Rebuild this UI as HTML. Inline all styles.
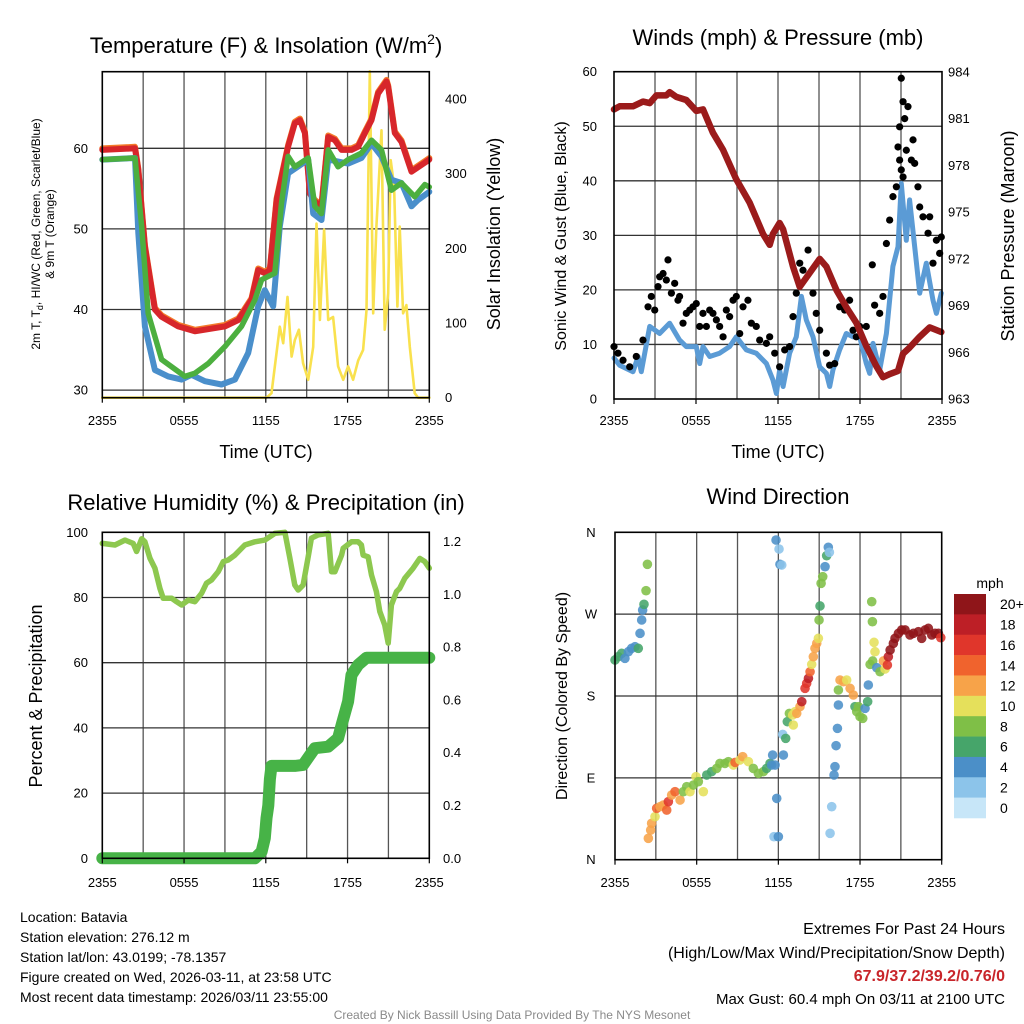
<!DOCTYPE html>
<html><head><meta charset="utf-8">
<style>
html,body{margin:0;padding:0;background:#fff;}
svg{display:block;font-family:"Liberation Sans",Arial,sans-serif;}
</style></head>
<body>
<svg id="s" width="1024" height="1024" viewBox="0 0 1024 1024" xmlns="http://www.w3.org/2000/svg">
<rect width="1024" height="1024" fill="#fff"/>
<g id="static" font-family="Liberation Sans, Arial, sans-serif" fill="#000">
<text x="266" y="53" font-size="22" text-anchor="middle">Temperature (F) &amp; Insolation (W/m<tspan font-size="14" dy="-9">2</tspan><tspan dy="9">)</tspan></text>
<text x="778" y="45" font-size="22" text-anchor="middle">Winds (mph) &amp; Pressure (mb)</text>
<text x="266" y="510" font-size="22" text-anchor="middle">Relative Humidity (%) &amp; Precipitation (in)</text>
<text x="778" y="504" font-size="22" text-anchor="middle">Wind Direction</text>
<text x="266" y="458" font-size="18" text-anchor="middle">Time (UTC)</text>
<text x="778" y="458" font-size="18" text-anchor="middle">Time (UTC)</text>
<text transform="translate(40,234) rotate(-90)" font-size="12" text-anchor="middle">2m T, T<tspan font-size="9" dy="3">d</tspan><tspan dy="-3">, HI/WC (Red, Green, Scarlet/Blue)</tspan></text>
<text transform="translate(54,234) rotate(-90)" font-size="12" text-anchor="middle">&amp; 9m T (Orange)</text>
<text transform="translate(500,234) rotate(-90)" font-size="18" text-anchor="middle">Solar Insolation (Yellow)</text>
<text transform="translate(566,236) rotate(-90)" font-size="16" text-anchor="middle">Sonic Wind &amp; Gust (Blue, Black)</text>
<text transform="translate(1014,236) rotate(-90)" font-size="18" text-anchor="middle">Station Pressure (Maroon)</text>
<text transform="translate(42,696) rotate(-90)" font-size="18" text-anchor="middle">Percent &amp; Precipitation</text>
<text transform="translate(567,696) rotate(-90)" font-size="16" text-anchor="middle">Direction (Colored By Speed)</text>
<text x="990" y="588" font-size="14" text-anchor="middle">mph</text>
<g font-size="14">
<text x="20" y="922">Location: Batavia</text>
<text x="20" y="942">Station elevation: 276.12 m</text>
<text x="20" y="962">Station lat/lon: 43.0199; -78.1357</text>
<text x="20" y="982">Figure created on Wed, 2026-03-11, at 23:58 UTC</text>
<text x="20" y="1002">Most recent data timestamp: 2026/03/11 23:55:00</text>
</g>
<g text-anchor="end">
<text x="1005" y="934" font-size="16">Extremes For Past 24 Hours</text>
<text x="1005" y="958" font-size="16">(High/Low/Max Wind/Precipitation/Snow Depth)</text>
<text x="1005" y="981" font-size="16" font-weight="bold" fill="#c8252a">67.9/37.2/39.2/0.76/0</text>
<text x="1005" y="1004" font-size="15">Max Gust: 60.4 mph On 03/11 at 2100 UTC</text>
</g>
<text x="512" y="1019" font-size="12" fill="#8a8a8a" text-anchor="middle">Created By Nick Bassill Using Data Provided By The NYS Mesonet</text>
</g>
</svg>
<script>
// ---------- DATA ----------
const xTickLabels = ["2355","0555","1155","1755","2355"];
const xTickHours = [0,6,12,18,24];
// Temperature panel
const tRedH = [0,2.4,2.64,3.13,3.86,4.35,5.57,6.8,9.0,9.98,10.95,11.44,11.93,12.3,12.79,13.64,14.13,14.5,14.87,15.23,15.6,16.09,16.58,17.07,17.56,18.29,18.78,19.27,19.76,20.24,20.86,20.98,21.47,21.96,22.69,24];
const tRedV = [59.8,60,57.3,47.8,40.0,39.1,37.9,37.3,37.9,38.7,41.2,44.9,44.5,44.9,53.6,60.2,63.1,63.5,61.9,54.4,53.4,52.8,61.4,61.0,59.8,59.8,60.2,61.9,63.5,66.8,68.3,67.6,61.9,60.8,57.1,58.6];
const tGreenH = [0,2.4,2.89,3.37,4.35,6.06,6.8,7.78,9.0,10.22,11.2,11.69,12.66,13.15,13.64,14.13,15.11,15.6,16.09,16.58,17.31,18.04,19.02,19.76,20.49,21.22,21.96,22.93,23.67,24];
const tGreenV = [58.6,58.8,50.3,39.5,33.8,31.7,32.1,33.3,35.4,37.9,41.2,43.7,44.5,53.2,59.0,57.7,58.8,52.8,51.9,59.8,57.7,58.6,59.4,61.0,59.8,54.8,55.7,54.0,55.5,55.2];
const tBlueH = [0,2.4,2.64,3.13,3.86,4.84,5.82,6.55,7.53,8.75,9.73,10.71,11.44,11.93,12.54,13.03,13.64,15.11,15.48,16.09,16.58,18.04,19.02,19.76,20.49,21.22,21.96,22.69,23.18,24];
const tBlueV = [58.6,58.8,49.5,37.9,32.5,31.7,31.3,31.9,31.1,30.7,31.3,34.6,40.4,42.4,40.4,50.3,56.9,58.6,51.9,51.1,58.6,58.1,58.8,60.6,59.0,56.1,55.7,52.8,53.6,54.6];
const solarH = [0,12.05,12.42,13.03,13.28,13.59,13.89,14.13,14.43,14.74,15.11,15.48,15.72,15.97,16.28,16.58,16.94,17.31,17.68,18.04,18.41,18.78,19.14,19.39,19.63,19.88,20.12,20.49,20.73,20.98,21.17,21.42,21.66,21.83,22.08,22.32,22.57,22.93,23.18,24];
const solarV = [0,0,6,95,73,135,55,77,91,46,24,68,233,104,225,104,108,42,24,42,24,50,64,117,437,113,229,358,91,140,318,283,122,229,113,124,68,6,0,0];
const tempTicks = [30,40,50,60];
const solarTicks = [0,100,200,300,400];
// Wind panel
const presH = [0,0.41,1.39,2.12,2.61,3.1,3.83,4.07,4.56,5.29,6.02,6.51,7.24,7.98,8.95,9.93,10.9,11.39,11.63,12.12,12.37,13.1,13.59,14.32,15.05,15.54,16.27,17.0,17.73,18.46,19.2,19.68,20.17,20.78,21.15,21.63,22.37,23.1,23.95];
const presV = [981.6,981.8,981.8,982.1,982.0,982.5,982.5,982.7,982.4,982.2,981.5,981.6,980.1,979.0,977.1,975.6,973.6,972.9,973.6,974.3,973.9,971.5,970.2,971.1,972.0,971.5,970.0,968.9,967.9,966.4,965.1,964.4,964.6,964.8,965.9,966.3,967.0,967.6,967.3];
const windH = [0,0.41,1.39,1.76,2.0,2.61,3.34,4.07,4.8,5.29,6.02,6.27,6.51,7.0,7.73,8.46,8.95,9.68,10.41,11.15,11.63,11.88,12.12,12.37,12.85,13.34,13.71,14.07,14.56,15.05,15.54,15.78,16.02,16.51,17.0,17.49,17.98,18.46,18.71,18.95,19.44,19.93,20.41,20.78,21.02,21.39,21.63,22.0,22.37,22.85,23.34,23.59,23.95];
const windV = [7.5,6.2,5.0,7.8,5.0,13.3,12.0,13.9,10.8,9.6,9.6,6.5,9.6,7.8,8.4,9.6,11.4,9.0,8.4,6.5,3.5,1.0,5.3,2.3,8.4,11.4,18.8,14.5,11.4,5.9,4.7,2.3,5.3,9.0,12.0,11.4,11.4,6.5,4.7,10.2,5.3,12.0,24.3,27.9,39.5,29.1,36.5,27.9,19.4,24.9,18.1,15.7,19.4];
const gustH = [0,0.29,0.66,1.15,1.63,2.12,2.49,2.73,2.98,3.22,3.34,3.59,3.83,3.95,4.2,4.44,4.68,4.8,5.05,5.29,5.54,5.78,6.02,6.27,6.51,6.76,7.0,7.24,7.49,7.73,7.98,8.22,8.46,8.71,8.95,9.2,9.44,9.8,10.05,10.41,10.66,11.15,11.39,11.76,12.12,12.49,12.85,13.1,13.34,13.59,13.83,14.2,14.56,14.8,15.05,15.54,15.78,16.15,16.51,16.88,17.24,17.49,17.73,17.98,18.46,18.9,19.07,19.44,19.68,19.93,20.17,20.41,20.66,20.78,20.9,20.9,21.02,21.02,21.15,21.15,21.27,21.39,21.51,21.76,21.88,22.0,22.24,22.37,22.61,22.98,23.1,23.34,23.59,23.83,23.95];
const gustV = [9.6,8.4,7.1,5.9,7.8,10.8,16.9,18.8,16.3,20.6,22.4,23.0,21.8,25.5,19.4,21.2,18.1,18.8,13.9,15.7,16.3,16.9,17.5,13.3,15.7,13.3,16.3,15.7,14.5,13.3,11.4,16.3,15.1,18.1,18.8,12.0,16.9,18.1,13.9,13.3,10.8,10.2,11.4,8.4,5.9,9.0,9.6,15.1,19.4,24.9,23.6,27.3,19.4,15.7,12.6,8.4,6.2,6.5,16.9,16.3,18.1,12.6,11.4,13.3,13.3,24.6,17.2,15.7,18.8,28.5,32.8,37.1,38.9,46.2,49.9,43.8,58.8,42.0,54.5,40.7,51.4,45.6,53.6,43.8,47.5,43.2,38.9,35.2,33.4,30.4,33.4,24.9,29.1,26.7,29.7];
const windTicks = [0,10,20,30,40,50,60];
const presTicks = [963,966,969,972,975,978,981,984];
// Humidity panel
const rhH = [0,0.93,1.66,2.27,2.52,2.89,3.13,3.5,3.86,4.23,4.47,5.09,5.45,5.82,6.31,6.8,7.29,7.65,8.02,8.51,8.88,9.24,9.73,10.46,11.2,11.93,12.67,13.4,13.77,14.13,14.38,14.74,15.11,15.35,15.84,16.58,16.82,17.07,17.56,17.68,18.29,18.78,19.02,19.14,19.51,19.76,20.12,20.37,20.73,20.98,21.22,21.59,21.83,22.2,22.81,23.3,23.67,24];
const rhV = [96.6,96.1,97.6,96.6,94.1,98.0,97.1,92.0,89.0,82.8,79.8,79.8,78.7,77.7,79.2,78.7,81.3,84.4,85.4,87.9,91.0,91.5,93.0,96.1,97.1,97.6,99.7,100,92.0,83.8,82.3,83.8,92.5,98.2,99.2,99.7,87.9,87.9,93.0,95.1,97.1,97.1,96.1,93.0,92.5,86.9,81.8,75.7,71.6,66.0,77.7,81.8,82.8,85.9,89.0,92.0,91.0,89.0];
const precipH = [0,11.2,11.69,11.93,12.05,12.18,12.3,12.42,14.13,14.74,15.6,16.58,17.31,17.56,18.04,18.29,18.78,19.39,24];
const precipV = [0,0,0.025,0.076,0.152,0.2,0.3,0.35,0.35,0.354,0.417,0.423,0.455,0.505,0.594,0.695,0.733,0.76,0.76];
const rhTicks = [0,20,40,60,80,100];
const precipTicks = ["0.0","0.2","0.4","0.6","0.8","1.0","1.2"];
// Wind direction panel
const dirH = [0,0.24,0.49,0.73,0.98,1.22,1.47,1.71,1.84,1.96,2.03,2.13,2.28,2.38,2.45,2.62,2.69,2.94,3.06,3.31,3.55,3.8,3.92,4.16,4.41,4.78,5.02,5.27,5.51,5.76,5.95,6.12,6.49,6.74,7.1,7.47,7.71,8.08,8.33,8.69,8.82,9.18,9.38,9.8,10.16,10.53,10.9,11.14,11.39,11.58,11.51,11.76,11.88,11.68,12.0,11.83,12.05,12.12,12.25,12.32,12.37,12.54,12.66,12.81,13.05,13.1,13.23,13.35,13.59,13.72,13.96,14.08,14.21,14.33,14.45,14.57,14.69,14.82,14.94,14.99,15.06,15.14,15.26,15.43,15.55,15.67,15.75,15.8,15.92,16.09,16.16,16.24,16.34,16.41,16.41,16.53,16.78,17.02,17.27,17.51,17.63,17.76,17.88,18.0,18.2,18.37,18.56,18.61,18.74,18.93,19.1,19.03,18.91,18.86,19.23,19.47,19.72,19.84,20.01,20.08,20.21,20.45,20.57,20.82,21.06,21.31,21.67,21.92,22.29,22.53,22.78,23.02,23.27,23.51,23.76,23.93];
const dirV = [219.6,223.2,226.9,221.4,228.7,232.4,234.2,232.4,248.9,263.6,274.6,280.8,295.8,324.8,23.5,32.6,40.0,47.3,56.5,58.3,60.1,54.6,63.8,71.1,74.8,65.6,74.8,80.3,74.8,82.1,91.3,85.8,74.8,93.1,96.8,100.4,105.9,105.9,107.8,104.1,107.0,109.6,113.3,107.8,100.4,94.9,96.8,100.4,105.9,115.1,104.1,104.1,67.4,25.3,25.3,351.5,341.6,324.8,324.0,137.8,115.1,133.4,151.8,160.9,159.1,148.1,162.8,160.9,168.3,173.8,188.4,193.9,199.4,206.7,214.8,223.2,232.4,237.9,243.4,263.6,279.0,303.9,311.2,322.2,334.3,343.5,338.0,29.0,58.3,93.1,102.3,125.4,144.4,170.1,186.6,197.6,195.7,197.6,188.4,181.1,168.3,162.8,168.3,157.3,155.4,166.4,173.8,192.1,214.8,218.5,228.7,239.0,261.7,283.7,211.1,206.7,218.5,209.7,214.1,223.2,230.6,237.9,243.4,248.9,252.6,252.6,247.1,248.9,250.7,243.4,252.6,254.4,247.1,248.9,248.9,244.1];
const dirSpd = [6,6,6,4,4,4,4,6,4,4,4,6,8,8,12,12,12,10,14,12,12,14,16,12,14,12,8,8,10,8,10,8,10,6,6,8,8,8,8,10,14,10,12,10,8,8,8,6,6,4,4,4,4,2,4,4,2,4,2,2,4,6,6,8,10,10,10,12,12,18,16,16,18,14,10,12,12,12,10,8,6,8,8,4,6,4,2,2,2,4,4,4,4,4,8,12,12,10,12,12,6,8,8,8,8,4,6,4,8,8,10,10,8,8,4,8,12,10,16,18,20,20,20,20,20,20,20,20,20,20,20,20,20,20,20,16,20];
const speedLabels = ["20+","18","16","14","12","10","8","6","4","2","0"];
const speedColors = ["#8f1519","#bd1f26","#e0362b","#f0632d","#f7a349","#e5e05b","#7fbf47","#46a56a","#4b8fc8","#8cc4ea","#c7e6f8"];
const dirTicks = ["N","E","S","W","N"];

// ---------- DRAW ----------
const NS="http://www.w3.org/2000/svg";
const svg=document.getElementById('s');
function mk(tag,attrs,parent){const e=document.createElementNS(NS,tag);for(const k in attrs)e.setAttribute(k,attrs[k]);(parent||svg).appendChild(e);return e;}
function lin(d0,d1,r0,r1){return v=>r0+(v-d0)*(r1-r0)/(d1-d0);}

const P1={x0:102.3,x1:429.3,y0:71.7,y1:397.7};
const P2={x0:614,x1:942,y0:71.7,y1:399};
const P3={x0:102.3,x1:429.3,y0:532.3,y1:858.3};
const P4={x0:615,x1:941.7,y0:532.3,y1:859.7};

function frame(P,name,hGridVals,yScale){
  const g=mk('g',{});
  
  
  const xs=lin(0,24,P.x0,P.x1);
  for(let h=3;h<24;h+=3){const l=mk('line',{x1:xs(h),x2:xs(h),y1:P.y0,y2:P.y1,stroke:'#555','stroke-width':1.3},g);
    
    }
  hGridVals.forEach(v=>{const y=yScale(v);const l=mk('line',{x1:P.x0,x2:P.x1,y1:y,y2:y,stroke:'#333','stroke-width':1.3},g);
    
    });
  return {g,xs};
}
function border(P,name){const r=mk('rect',{x:P.x0,y:P.y0,width:P.x1-P.x0,height:P.y1-P.y0,fill:'none',stroke:'#000','stroke-width':1.6});
  
  }
function xLabels(P,xs,y,name){xTickHours.forEach((h,i)=>{const t=mk('text',{x:xs(h),y:y,'font-size':13,'text-anchor':'middle'});t.textContent=xTickLabels[i];
  
  
  mk('line',{x1:xs(h),x2:xs(h),y1:P.y1,y2:P.y1+5,stroke:'#000','stroke-width':1.2});});}
function path(H,V,xs,ys,color,w,name,extra){let d='';H.forEach((h,i)=>{d+=(i?'L':'M')+xs(h).toFixed(1)+','+ys(V[i]).toFixed(1);});
  const p=mk('path',Object.assign({d:d,fill:'none',stroke:color,'stroke-width':w,'stroke-linejoin':'round','stroke-linecap':'round'},extra||{}));
  
  return p;}
function yLabel(x,y,txt,anchor,name){const t=mk('text',{x:x,y:y+4.5,'font-size':13,'text-anchor':anchor});t.textContent=txt;
  
  }

// Panel 1
const tY=lin(60,30,148.3,390.1), sY=lin(0,400,397.7,98.9);
const f1=frame(P1,'temperature-grid',tempTicks,tY);
path(solarH,solarV,f1.xs,sY,'#f9e14e',2.6,'solar-insolation-line');
path(tRedH,tRedV,f1.xs,tY,'#f47a2a',6,'9m-temperature-line',{transform:'translate(0,-1.5)'});
path(tRedH,tRedV,f1.xs,tY,'#d7262b',6,'2m-temperature-line');
path(tBlueH,tBlueV,f1.xs,tY,'#4a8fcb',6,'wind-chill-line');
path(tGreenH,tGreenV,f1.xs,tY,'#4caf3f',5.5,'dewpoint-line');
border(P1,'temperature-plot-frame');
tempTicks.forEach(v=>yLabel(88,tY(v),String(v),'end','temp-tick-label'));
solarTicks.forEach(v=>yLabel(445,sY(v),String(v),'start','solar-tick-label'));
xLabels(P1,f1.xs,425,'temp-x-tick-label');

// Panel 2
const wY=lin(0,60,399,71.7), pY=lin(963,984,399,72);
const f2=frame(P2,'wind-grid',[10,20,30,40,50],wY);
path(windH,windV,f2.xs,wY,'#5b9bd5',5,'sonic-wind-line');
gustH.forEach((h,i)=>{const c=mk('circle',{cx:f2.xs(h),cy:wY(gustV[i]),r:3.6,fill:'#000'});
  
  });
path(presH,presV,f2.xs,pY,'#9b1b1b',6.5,'pressure-line');
border(P2,'wind-plot-frame');
windTicks.forEach(v=>yLabel(597,wY(v),String(v),'end','wind-tick-label'));
presTicks.forEach(v=>yLabel(948,pY(v),String(v),'start','pressure-tick-label'));
xLabels(P2,f2.xs,425,'wind-x-tick-label');

// Panel 3
const rY=lin(0,100,858.3,532.3), prY=lin(0,1.2,858.3,541.6);
const f3=frame(P3,'humidity-grid',[20,40,60,80],rY);
path(rhH,rhV,f3.xs,rY,'#8dc84f',5.5,'relative-humidity-line');
path(precipH,precipV,f3.xs,prY,'#47b347',12,'precipitation-line');
border(P3,'humidity-plot-frame');
rhTicks.forEach(v=>yLabel(88,rY(v),String(v),'end','humidity-tick-label'));
precipTicks.forEach(v=>yLabel(443,prY(parseFloat(v)),v,'start','precip-tick-label'));
xLabels(P3,f3.xs,887,'humidity-x-tick-label');

// Panel 4
const dY=lin(0,360,859.7,532.3);
const f4=frame(P4,'direction-grid',[90,180,270],dY);
dirH.forEach((h,i)=>{const idx=Math.max(0,Math.min(10,10-Math.round(dirSpd[i]/2)));
  const c=mk('circle',{cx:f4.xs(h),cy:dY(dirV[i]),r:4.8,fill:speedColors[idx],'fill-opacity':0.88});
  
  });
border(P4,'direction-plot-frame');
dirTicks.forEach((v,i)=>yLabel(591,dY(i*90),v,'middle','direction-tick-label'));
xLabels(P4,f4.xs,887,'direction-x-tick-label');

// Colorbar
const cbTop=594, cbH=224/11;
speedColors.forEach((c,i)=>{const r=mk('rect',{x:954,y:cbTop+i*cbH,width:32,height:cbH+0.3,fill:c});
  
  
  const t=mk('text',{x:1000,y:cbTop+i*cbH+cbH/2+5,'font-size':14});t.textContent=speedLabels[i];
  
  });
</script>
</body></html>
